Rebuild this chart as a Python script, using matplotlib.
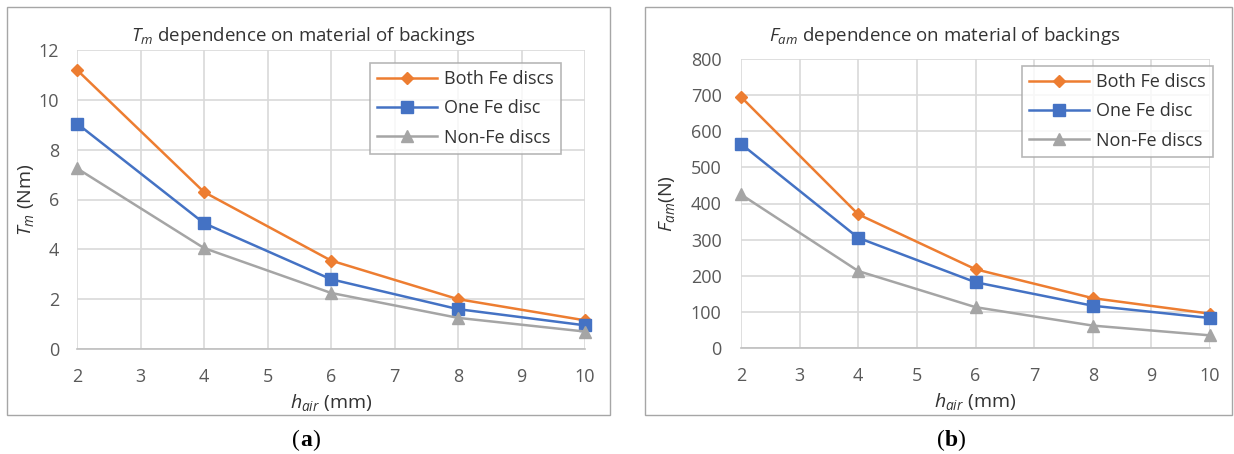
import matplotlib
matplotlib.use('Agg')
import matplotlib.pyplot as plt
from matplotlib.patches import Rectangle

plt.rcParams['font.family'] = ['Open Sans', 'DejaVu Sans']
plt.rcParams['mathtext.fontset'] = 'custom'
plt.rcParams['mathtext.rm'] = 'Open Sans'
plt.rcParams['mathtext.it'] = 'Open Sans:italic'

h_air = [2, 4, 6, 8, 10]
series = ['Both Fe discs', 'One Fe disc', 'Non-Fe discs']

# (a) torque, Nm
tm_both = [11.2, 6.3, 3.55, 2.0, 1.15]
tm_one = [9.05, 5.05, 2.8, 1.6, 0.95]
tm_non = [7.25, 4.05, 2.25, 1.25, 0.7]

# (b) force, N
fam_both = [695, 370, 218, 138, 95]
fam_one = [565, 305, 182, 117, 83]
fam_non = [425, 213, 113, 62, 35]

colors = ['#ED7D31', '#4472C4', '#A5A5A5']
markers = ['D', 's', '^']
msizes = [6.5, 9, 8]
grid_c = '#D9D9D9'
text_c = '#595959'

fig = plt.figure(figsize=(12.34, 4.54), dpi=100)

# frames around each panel
for x0, x1 in [(7, 610), (645, 1232)]:
    fig.patches.append(Rectangle((x0 / 1234, 1 - 415 / 454), (x1 - x0) / 1234, (415 - 7) / 454,
                                 transform=fig.transFigure, fill=False,
                                 edgecolor='#A6A6A6', linewidth=1.0))


def panel(rect, data, ymax, ystep, title, title_x, ylabel, letter, letter_x, leg_anchor,
          ypad, ylpad):
    ax = fig.add_axes(rect)
    for vals, name, c, m, ms in zip(data, series, colors, markers, msizes):
        ax.plot(h_air, vals, color=c, marker=m, markersize=ms, linewidth=1.8,
                label=name, clip_on=False, zorder=3)
    ax.set_xlim(2, 10)
    ax.set_ylim(0, ymax)
    ax.set_xticks(range(2, 11))
    ax.set_yticks(range(0, ymax + 1, ystep))
    ax.grid(True, color=grid_c, linewidth=1.2)
    ax.set_axisbelow(True)
    for s in ['top', 'right', 'left']:
        ax.spines[s].set_visible(False)
    ax.spines['bottom'].set_color('#BFBFBF')
    ax.spines['bottom'].set_linewidth(1.2)
    ax.tick_params(length=0, labelsize=13, colors=text_c)
    ax.tick_params(axis='y', pad=ypad)
    ax.tick_params(axis='x', pad=14)
    # title is centred on the chart frame, not on the plot area
    fig.text(title_x, 1 - 41 / 454, title, fontsize=13.5, color='#333333',
             ha='center', va='baseline')
    ax.set_xlabel(r'$h_{air}$ (mm)', fontsize=14, color='#333333', labelpad=4)
    ax.set_ylabel(ylabel, fontsize=14, color='#333333', labelpad=ylpad)
    leg = ax.legend(loc='upper left', bbox_to_anchor=leg_anchor, borderaxespad=0,
                    fontsize=13, frameon=True, fancybox=False, edgecolor='#A6A6A6',
                    handlelength=3.3, borderpad=0.4, labelspacing=0.62, handletextpad=0.4)
    leg.get_frame().set_linewidth(1.2)
    for t in leg.get_texts():
        t.set_color('#333333')
    ly = 1 - 440 / 454
    fig.text(letter_x, ly, '(', fontsize=17, family='Liberation Serif',
             ha='right', va='center')
    fig.text(letter_x, ly, letter, fontsize=17, family='Liberation Serif',
             ha='left', va='center', fontweight='bold')
    fig.text(letter_x + 0.0095, ly, ')', fontsize=17, family='Liberation Serif',
             ha='left', va='center')
    return ax


panel([77 / 1234, 1 - 349 / 454, 508 / 1234, 299 / 454],
      [tm_both, tm_one, tm_non], 12, 2,
      r'$T_m$ dependence on material of backings', 303 / 1234,
      r'$T_m$ (Nm)', 'a', 300 / 1234, (0.577, 0.9565), 13, 2)

panel([741 / 1234, 1 - 348 / 454, 469 / 1234, 289 / 454],
      [fam_both, fam_one, fam_non], 800, 100,
      r'$F_{am}$ dependence on material of backings', 945 / 1234,
      r'$F_{am}$(N)', 'b', 945 / 1234, (0.599, 0.976), 14, 10)

fig.savefig('out.png', dpi=100)
